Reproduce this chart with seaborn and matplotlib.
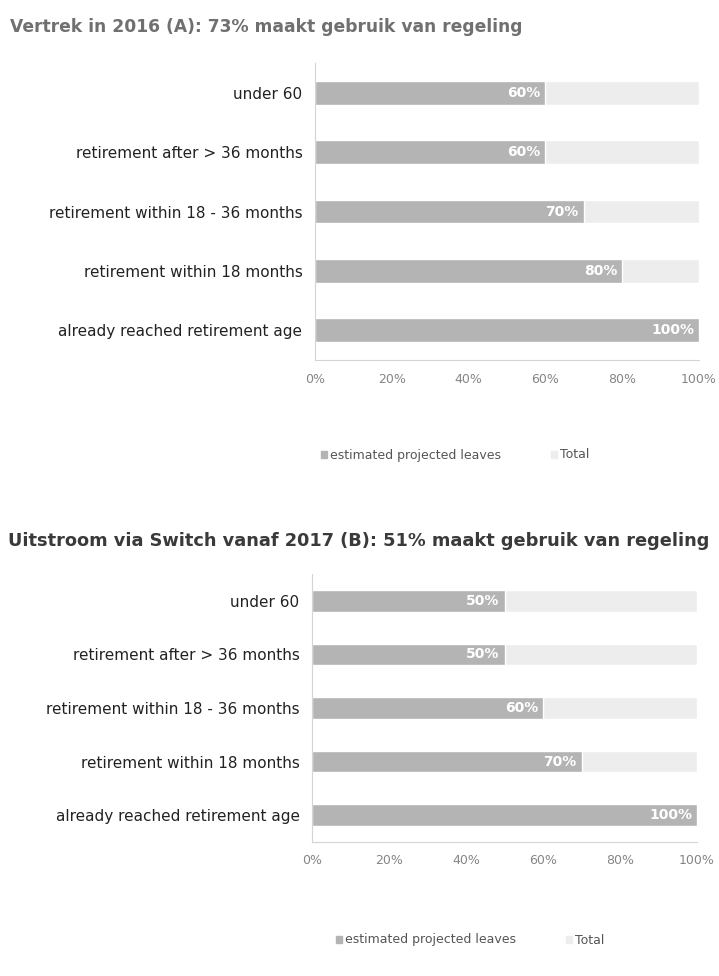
import matplotlib
matplotlib.use("Agg")
import matplotlib.pyplot as plt
import seaborn as sns
from matplotlib.patches import Patch
from matplotlib.ticker import FixedLocator

sns.set_style("white")
plt.rcParams['font.family'] = ['DejaVu Sans']

# datos
categories = ["under 60", "retirement after > 36 months", "retirement within 18 - 36 months",
              "retirement within 18 months", "already reached retirement age"]
pct_a = [60, 60, 70, 80, 100]
pct_b = [50, 50, 60, 70, 100]
total = [100, 100, 100, 100, 100]
x_ticks = [0, 20, 40, 60, 80, 100]
title_a = "Vertrek in 2016 (A): 73% maakt gebruik van regeling"
title_b = "Uitstroom via Switch vanaf 2017 (B): 51% maakt gebruik van regeling"
legend_labels = ["estimated projected leaves", "Total"]

W, H = 719, 976
fig = plt.figure(figsize=(W / 100, H / 100), dpi=100)

col_est = '#b4b4b4'
col_tot = '#ededed'


def px_axes(left, top, right, bottom):
    return fig.add_axes([left / W, 1 - bottom / H, (right - left) / W, (bottom - top) / H])


def draw_panel(ax, values):
    sns.barplot(x=total, y=categories, color=col_tot, width=0.4, ax=ax, orient='h')
    sns.barplot(x=values, y=categories, color=col_est, width=0.4, ax=ax, orient='h')
    for i, v in enumerate(values):
        ax.text(v - 1.3, i, f"{v}%", ha='right', va='center', color='white',
                fontsize=10, fontweight='bold')
    ax.set_xlim(0, 100)
    ax.set_ylim(4.5, -0.5)
    ax.set_xticks(x_ticks)
    ax.set_xticklabels([f"{t}%" for t in x_ticks])
    ax.set_xlabel("")
    ax.set_ylabel("")
    ax.yaxis.set_minor_locator(FixedLocator([-0.5, 0.5, 1.5, 2.5, 3.5, 4.5]))
    ax.tick_params(axis='y', which='major', length=0, pad=9, labelsize=11, labelcolor='#222222')
    ax.tick_params(axis='y', which='minor', length=3, color='#cccccc', direction='out')
    ax.tick_params(axis='x', length=3, color='#d0d0d0', direction='out', pad=6,
                   labelsize=9, labelcolor='#858585')
    for s in ['top', 'right']:
        ax.spines[s].set_visible(False)
    for s in ['left', 'bottom']:
        ax.spines[s].set_color('#d4d4d4')
        ax.spines[s].set_linewidth(0.8)


handles = [Patch(color=col_est), Patch(color=col_tot)]

# Panel A
fig.text(10 / W, 1 - 27 / H, title_a, fontsize=12.3, fontweight='bold', color='#707070', va='center')
ax_a = px_axes(315, 63, 699, 360)
draw_panel(ax_a, pct_a)
fig.legend(handles, legend_labels, loc='center', bbox_to_anchor=(455 / W, 1 - 455 / H), ncol=2,
           frameon=False, fontsize=9, labelcolor='#555555', handlelength=0.5, handleheight=0.5,
           handletextpad=0.2, columnspacing=4)

# Panel B
fig.text(8 / W, 1 - 541 / H, title_b, fontsize=12.8, fontweight='bold', color='#3a3a3a', va='center')
ax_b = px_axes(312, 574, 697, 842)
draw_panel(ax_b, pct_b)
fig.legend(handles, legend_labels, loc='center', bbox_to_anchor=(470 / W, 1 - 940 / H), ncol=2,
           frameon=False, fontsize=9, labelcolor='#555555', handlelength=0.5, handleheight=0.5,
           handletextpad=0.2, columnspacing=4)

fig.savefig("out.png", dpi=100)
